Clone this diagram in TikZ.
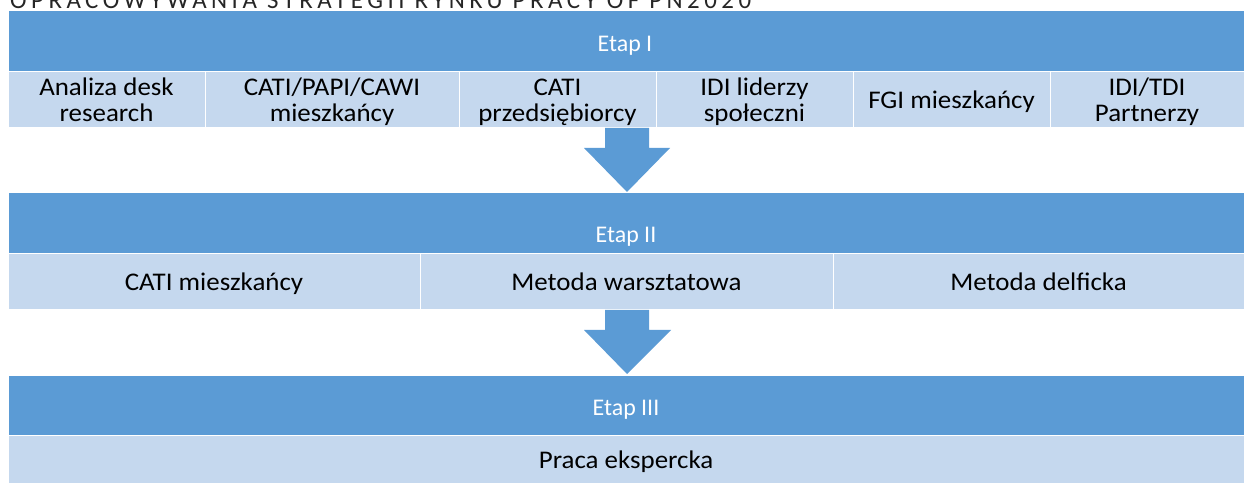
\documentclass[tikz,border=0pt]{standalone}
\usepackage{fontspec}
\setmainfont{Carlito}
\newfontfamily\titlefont[LetterSpace=18]{Carlito}
\newfontfamily\cellfont[FakeStretch=1.06]{Carlito}
\definecolor{barblue}{HTML}{5B9BD5}
\definecolor{celllight}{HTML}{C5D8EE}
\begin{document}
\begin{tikzpicture}[x=1bp,y=-1bp,
  bar/.style={fill=barblue, draw=white, line width=0.6bp, minimum height=62bp, inner sep=0pt, outer sep=0pt, anchor=north west},
  etaptext/.style={text=white, font=\fontsize{24}{27}\selectfont, inner sep=0pt, anchor=base},
  cell/.style={fill=celllight, draw=white, line width=1bp, inner sep=0pt, outer sep=0pt, anchor=north west, align=center, font=\cellfont\fontsize{25.5}{27}\selectfont, text=black},
  oneline/.style={text height=22bp, text depth=4bp},
  twoline/.style={text height=48bp, text depth=4bp},
  blockarrow/.style={fill=barblue, draw=none}]
\useasboundingbox (0,0) rectangle (1244,484);
% title (cut at the top)
\node[anchor=base west, inner sep=0pt, font=\titlefont\fontsize{25}{28}\selectfont, text=black!85] (title) at (10,9) {OPRACOWYWANIA STRATEGII RYNKU PRACY OF PN2020};
% Etap I
\node[bar, minimum width=1236bp] (b1) at (8,10) {};
\node[etaptext] (t1) at (625,52) {Etap I};
\node[cell, twoline, minimum width=197bp, minimum height=56bp] (c11) at (8,72) {Analiza desk\\research};
\node[cell, twoline, minimum width=254bp, minimum height=56bp] (c12) at (205,72) {CATI/PAPI/CAWI\\mieszkańcy};
\node[cell, twoline, minimum width=197bp, minimum height=56bp] (c13) at (459,72) {CATI\\przedsiębiorcy};
\node[cell, twoline, minimum width=197bp, minimum height=56bp] (c14) at (656,72) {IDI liderzy\\społeczni};
\node[cell, oneline, minimum width=197bp, minimum height=56bp] (c15) at (853,72) {FGI mieszkańcy};
\node[cell, twoline, minimum width=194bp, minimum height=56bp] (c16) at (1050,72) {IDI/TDI\\Partnerzy};
% arrow 1
\fill[blockarrow] (605,128) -- (649,128) -- (649,148) -- (670,148) -- (627,192) -- (584,148) -- (605,148) -- cycle;
% Etap II
\node[bar, minimum width=1236bp] (b2) at (8,192) {};
\node[etaptext] (t2) at (626,243) {Etap II};
\node[cell, oneline, minimum width=412bp, minimum height=56bp] (c21) at (8,254) {CATI mieszkańcy};
\node[cell, oneline, minimum width=413bp, minimum height=56bp] (c22) at (420,254) {Metoda warsztatowa};
\node[cell, oneline, minimum width=411bp, minimum height=56bp] (c23) at (833,254) {Metoda delficka};
% arrow 2
\fill[blockarrow] (605,310) -- (649,310) -- (649,330) -- (671,330) -- (627,374) -- (584,330) -- (605,330) -- cycle;
% Etap III
\node[bar, minimum width=1236bp, minimum height=60bp] (b3) at (8,375) {};
\node[etaptext] (t3) at (626,415) {Etap III};
\node[cell, oneline, minimum width=1236bp, minimum height=48bp] (c31) at (8,435) {Praca ekspercka};
\end{tikzpicture}
\end{document}
